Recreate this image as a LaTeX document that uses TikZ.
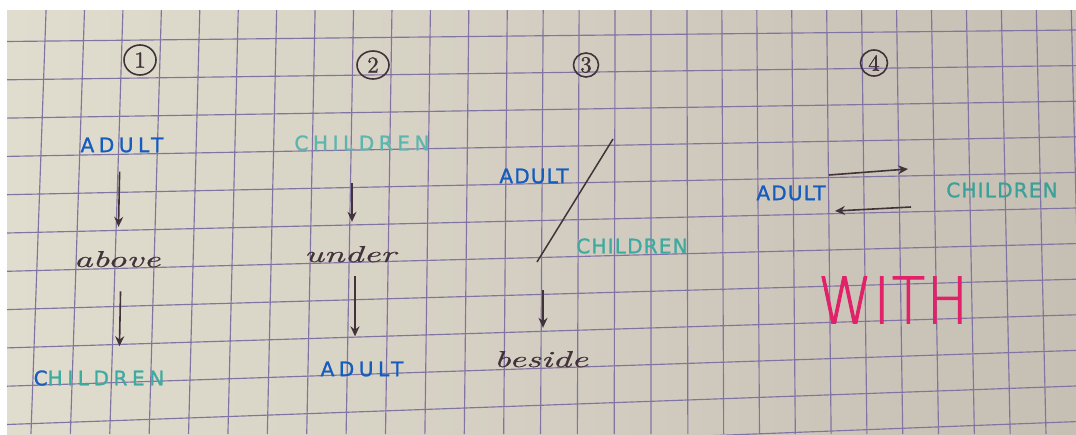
\documentclass[tikz,border=0pt]{standalone}
\usepackage{fontspec}
\usepackage{tikz}
\usetikzlibrary{arrows.meta, shapes.geometric}
\newfontfamily\capsfont{DejaVu Sans}[FakeBold=1.2]
\newfontfamily\penfont{lmroman10-italic.otf}[FakeStretch=1.6, FakeBold=0.6]
\newfontfamily\numfont{lmroman10-regular.otf}[FakeBold=1]
\IfFontExistsTF{DejaVu Sans ExtraLight}{\newfontfamily\withfont{DejaVu Sans ExtraLight}[FakeStretch=0.85, FakeBold=1.5]}{\newfontfamily\withfont{DejaVu Sans}[FakeStretch=0.85]}
\definecolor{paperl}{RGB}{224,221,206}
\definecolor{paperd}{RGB}{198,191,180}
\definecolor{gridc}{RGB}{128,116,162}
\definecolor{inkblue}{RGB}{22,92,190}
\definecolor{inkteal}{RGB}{62,170,160}
\definecolor{inkpink}{RGB}{226,34,104}
\definecolor{ink}{RGB}{66,50,58}

\tikzset{
	gridline/.style={gridc, line width=1.15pt},
	widecaps/.style={inner sep=0pt, font=\capsfont\addfontfeature{LetterSpace=23}\fontsize{20}{20}\selectfont},
	narrowcaps/.style={inner sep=0pt, font=\capsfont\addfontfeature{LetterSpace=6}\fontsize{20}{20}\selectfont},
	penword/.style={inner sep=0pt, anchor=base, text=ink, font=\penfont\fontsize{23}{23}\selectfont},
	numcircle/.style={ellipse, draw=ink, line width=1.6pt, inner sep=0pt, text=ink, font=\numfont\fontsize{23}{23}\selectfont},
	penarrow/.style={ink, line width=1.6pt, arrows={-Stealth[length=10pt, width=9pt]}}
}

\begin{document}
\begin{tikzpicture}[x=1pt, y=-1pt]
		\useasboundingbox (0,0) rectangle (1076,434);
		\fill[white] (0,0) rectangle (1076,434);
		\fill[left color=paperl, right color=paperd] (7,10) rectangle (1076,434);

		% squared paper
		\begin{scope}
			\clip (7,10) rectangle (1076,434);
			\foreach \k in {-1,...,12}
				\draw[gridline] (7,{41.5+38.3*\k}) -- (1076,{30+35.6*\k});
			\foreach \x in {45,83.5,122,160.5,199,237.5,276,314.5,353,391.5,430,468.5,507,543,579,615,651,687,722,757,792,827,862,897,932,967,1002,1037,1072}
				\draw[gridline] ({\x-(\x-650)*0.00177},10) -- ({\x+(\x-650)*0.0232},434);
		\end{scope}

		% 1
		\node[numcircle, minimum width=32pt, minimum height=30pt] (n1) at (140,60) {1};
		\node[widecaps, text=inkblue] (a1) at (122,145) {ADULT};
		\node[penword] (r1) at (117,267) {above};
		\node[widecaps, text=inkteal] (c1) at (99,378) {{\color{inkblue}C}HILDREN};
		\draw[penarrow, shorten <=19pt, shorten >=24pt] ([xshift=-2pt]a1.south) -- ([xshift=1pt]r1.north);
		\draw[penarrow, shorten <=24pt, shorten >=24pt] ([xshift=4pt]r1.south) -- ([xshift=20pt]c1.north);

		% 2
		\node[numcircle, minimum width=32pt, minimum height=28pt] (n2) at (373,65) {2};
		\node[widecaps, text=inkteal!85!white] (c2) at (362,143) {CHILDREN};
		\node[penword] (u2) at (350,262) {under};
		\node[widecaps, text=inkblue] (a2) at (362,369) {ADULT};
		\draw[penarrow, shorten <=32pt, shorten >=24pt] ([xshift=-10pt]c2.south) -- ([xshift=2pt]u2.north);
		\draw[penarrow, shorten <=14pt, shorten >=25pt] ([xshift=5pt]u2.south) -- ([xshift=-7pt]a2.north);

		% 3
		\node[numcircle, minimum width=25pt, minimum height=24pt] (n3) at (586,65) {3};
		\node[narrowcaps, text=inkblue] (a3) at (534,176) {ADULT};
		\node[narrowcaps, text=inkteal] (c3) at (632,246) {CHILDREN};
		\coordinate (s3a) at (613,139);
		\coordinate (s3b) at (537,262);
		\coordinate (s3c) at (543,290);
		\node[penword] (b3) at (541,367) {beside};
		\draw[ink, line width=1.5pt] (s3a) -- (s3b);
		\draw[penarrow, shorten >=23pt] (s3c) -- ([xshift=2pt]b3.north);

		% 4
		\node[numcircle, minimum width=27pt, minimum height=26pt] (n4) at (874,63) {4};
		\node[narrowcaps, text=inkblue] (a4) at (791,193) {ADULT};
		\node[narrowcaps, text=inkteal!95!black] (c4) at (1002,190) {CHILDREN};
		\coordinate (w1) at (829,175);
		\coordinate (w2) at (908,169);
		\coordinate (w3) at (911,207);
		\coordinate (w4) at (835,211);
		\draw[penarrow] (w1) -- (w2);
		\draw[penarrow] (w3) -- (w4);
		\node[inner sep=0pt, text=inkpink, font=\withfont\addfontfeature{LetterSpace=3}\fontsize{64}{64}\selectfont] (with) at (893,300) {WITH};

	\end{tikzpicture}
\end{document}
